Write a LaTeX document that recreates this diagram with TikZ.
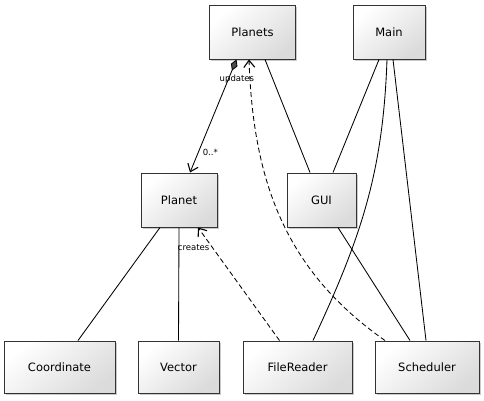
\documentclass[tikz,border=0pt]{standalone}
\usepackage{fontspec}
\setmainfont{DejaVu Sans}
\usetikzlibrary{arrows.meta,shadows}

\tikzset{
  classbox/.style={draw=black!80, line width=1pt, minimum height=54pt,
    top color=white, bottom color=black!14, shading angle=40,
    drop shadow={shadow xshift=1.5pt, shadow yshift=-1.5pt, fill=black!35, opacity=0.6},
    font=\fontsize{11.5}{13}\selectfont},
  lbl/.style={font=\fontsize{8.5}{10}\selectfont, inner sep=1pt},
  dep/.style={->, dash pattern=on 5pt off 3pt}
}

\begin{document}
\begin{tikzpicture}[x=1pt, y=-1pt, >={Straight Barb[length=7pt,width=11pt,line width=1.1pt]}, line width=0.85pt]
\useasboundingbox (0,0) rectangle (484,400);
\node[classbox, minimum width=86pt](Planets) at (252.5,32) {Planets};
\node[classbox, minimum width=72pt](Main) at (389,32) {Main};
\node[classbox, minimum width=76pt](Planet) at (179,200) {Planet};
\node[classbox, minimum width=69pt](GUI) at (321.5,200) {GUI};
\node[classbox, minimum width=111pt, minimum height=52pt](Coordinate) at (59.5,367) {Coordinate};
\node[classbox, minimum width=81pt, minimum height=52pt](Vector) at (178.5,367) {Vector};
\node[classbox, minimum width=109pt, minimum height=52pt](FileReader) at (297.5,367) {FileReader};
\node[classbox, minimum width=104pt, minimum height=52pt](Scheduler) at (427,367) {Scheduler};
% composition
\path[{Diamond[length=12pt,width=7pt,fill=black!70]}->] ([xshift=-16pt]Planets.south) edge
  node[lbl, pos=0.12, below=1pt, xshift=6pt] {updates}
  node[lbl, pos=0.82, right=3pt] {0..*} ([xshift=11pt]Planet.north);
% dependencies
\path[dep] ([xshift=-42pt]Scheduler.north) edge[out=145, in=-88] ([xshift=-3.5pt]Planets.south);
\path[dep] ([xshift=-18pt]FileReader.north) edge node[lbl, pos=0.82, left=2pt] {creates} ([xshift=19pt]Planet.south);
% associations
\path[-] ([xshift=12.5pt]Planets.south) edge ([xshift=-11.5pt]GUI.north);
\path[-] ([xshift=-10pt]Main.south) edge ([xshift=11.5pt]GUI.north);
\path[-] ([xshift=-2pt]Main.south) edge[out=-92, in=65] ([xshift=15.5pt]FileReader.north);
\path[-] ([xshift=4pt]Main.south) edge ([xshift=-1pt]Scheduler.north);
\path[-] ([xshift=16.5pt]GUI.south) edge ([xshift=-17pt]Scheduler.north);
\path[-] ([xshift=-19pt]Planet.south) edge ([xshift=18.5pt]Coordinate.north);
\path[-] (Planet.south) edge (Vector.north);
\end{tikzpicture}
\end{document}
